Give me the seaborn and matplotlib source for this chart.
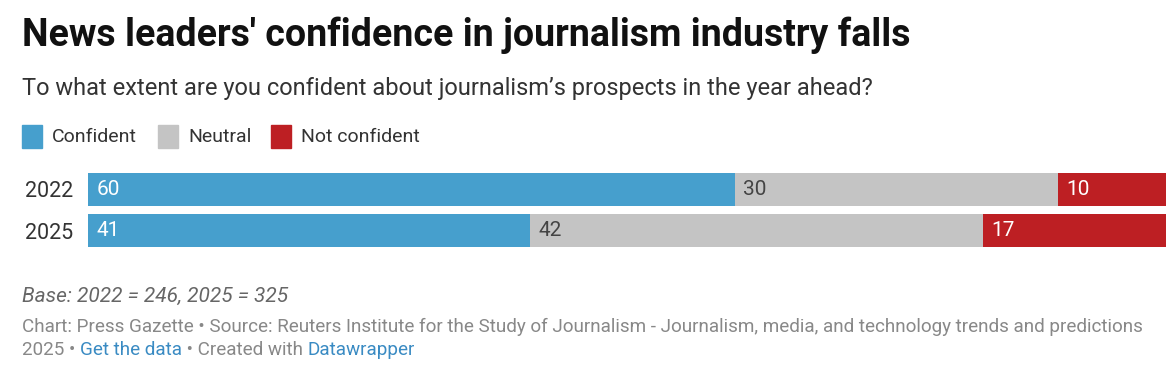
import matplotlib
matplotlib.use("Agg")
import pandas as pd
import matplotlib.pyplot as plt
import seaborn as sns

# data
years = ["2022", "2025"]
confident = [60, 41]
neutral = [30, 42]
not_confident = [10, 17]
legend_labels = ["Confident", "Neutral", "Not confident"]
colours = ["#469fcd", "#c4c4c4", "#bd1f23"]

df = pd.DataFrame({"year": years, "confident": confident,
                   "neutral": neutral, "not_confident": not_confident})
df["to_neutral"] = df["confident"] + df["neutral"]
df["total"] = df["to_neutral"] + df["not_confident"]

sns.set_theme(style="white")
plt.rcParams["font.family"] = ["Roboto", "DejaVu Sans"]

W, H = 1176, 366
fig = plt.figure(figsize=(W / 100, H / 100), dpi=100)


def fx(px):
    return px / W


def fy(py):
    return 1 - py / H


ax = fig.add_axes([fx(88), fy(247), fx(1166 - 88), 74 / H])

# stacked bars drawn as layered cumulative totals
for col, c in zip(["total", "to_neutral", "confident"], colours[::-1]):
    sns.barplot(data=df, x=col, y="year", color=c, width=0.8, saturation=1,
                linewidth=0, ax=ax, orient="y")

ax.set_xlim(0, 100)
ax.set_ylim(1.4, -0.4)
ax.set_xlabel("")
ax.set_ylabel("")
ax.set_xticks([])
sns.despine(ax=ax, left=True, bottom=True)
ax.tick_params(axis="y", length=0, pad=11, labelsize=15.5, labelcolor="#333333")

# value labels inside each segment
for i in range(len(years)):
    starts = [0, df["confident"][i], df["to_neutral"][i]]
    vals = [confident[i], neutral[i], not_confident[i]]
    txt_cols = ["white", "#444444", "white"]
    for s, v, tc in zip(starts, vals, txt_cols):
        ax.annotate(str(v), xy=(s, i), xytext=(6, 0), textcoords="offset points",
                    ha="left", va="center", fontsize=15, color=tc)

# titles
fig.text(fx(22), fy(35), "News leaders' confidence in journalism industry falls",
         fontsize=27, fontweight="bold", color="#111111", va="center", ha="left")
fig.text(fx(22), fy(88), "To what extent are you confident about journalism\u2019s prospects in the year ahead?",
         fontsize=17, color="#333333", va="center", ha="left")

# legend
leg_x = [22, 158, 271]
for lx, lab, c in zip(leg_x, legend_labels, colours):
    fig.patches.append(plt.Rectangle((fx(lx), fy(148)), fx(20), 23 / H,
                                     transform=fig.transFigure, color=c))
    fig.text(fx(lx + 30), fy(137), lab, fontsize=14, color="#333333",
             va="center", ha="left")

# footer
fig.text(fx(22), fy(296), "Base: 2022 = 246, 2025 = 325", fontsize=15,
         style="italic", color="#666666", va="center", ha="left")
fig.text(fx(22), fy(327),
         "Chart: Press Gazette \u2022 Source: Reuters Institute for the Study of Journalism - "
         "Journalism, media, and technology trends and predictions",
         fontsize=13.6, color="#888888", va="center", ha="left")

pieces = [("2025 \u2022 ", "#888888"), ("Get the data", "#3a8bc3"),
          (" \u2022 Created with ", "#888888"), ("Datawrapper", "#3a8bc3")]
renderer = fig.canvas.get_renderer()
x = fx(22)
for s, c in pieces:
    t = fig.text(x, fy(350), s, fontsize=13.6, color=c, va="center", ha="left")
    bb = t.get_window_extent(renderer=renderer)
    x = x + bb.width / W

fig.savefig("out.png", dpi=100)
